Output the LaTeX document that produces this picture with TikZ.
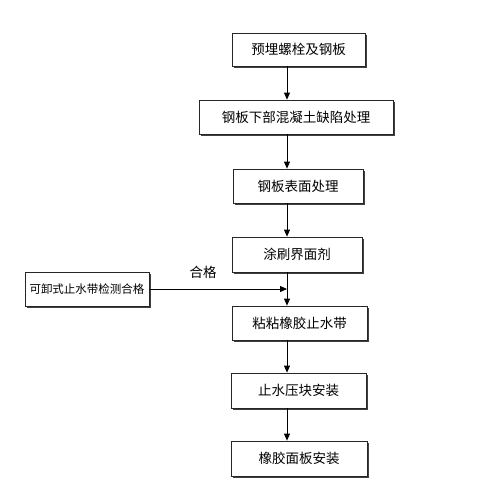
\documentclass[tikz,border=0pt]{standalone}
\usepackage{fontspec}
\newfontfamily\cjk{Noto Sans CJK SC}
\usetikzlibrary{arrows.meta,shadows}
\begin{document}
\begin{tikzpicture}[x=1pt,y=-1pt,
  stepbox/.style={draw=black!85,line width=0.8pt,fill=white,font=\cjk\fontsize{13.5}{15}\selectfont,
    inner sep=0pt,drop shadow={shadow xshift=1.5pt,shadow yshift=-1.5pt,fill=black!75,opacity=1}},
  conn/.style={draw=black,line width=0.8pt,-{Triangle[length=7pt,width=6pt]}}]
\useasboundingbox[fill=white] (0,0) rectangle (481,493);
\node[stepbox,minimum width=133pt,minimum height=33pt] (b1) at (298.5,49.5) {预埋螺栓及钢板};
\node[stepbox,minimum width=194pt,minimum height=34pt] (b2) at (296,117) {钢板下部混凝土缺陷处理};
\node[stepbox,minimum width=130pt,minimum height=34pt] (b3) at (298,186) {钢板表面处理};
\node[stepbox,minimum width=130pt,minimum height=35pt] (b4) at (297,254.5) {涂刷界面剂};
\node[stepbox,minimum width=124pt,minimum height=34pt,font=\cjk\fontsize{11.5}{13}\selectfont] (l) at (87,289) {可卸式止水带检测合格};
\node[stepbox,minimum width=135pt,minimum height=34pt] (b5) at (299.5,323) {粘粘橡胶止水带};
\node[stepbox,minimum width=135pt,minimum height=35pt] (b6) at (298.5,390.5) {止水压块安装};
\node[stepbox,minimum width=136pt,minimum height=35pt] (b7) at (299,458.5) {橡胶面板安装};
\coordinate (ax) at (287,0);
\coordinate (j) at (287,289);
\draw[conn] (b1.south -| ax) -- (b2.north -| ax);
\draw[conn] (b2.south -| ax) -- (b3.north -| ax);
\draw[conn] (b3.south -| ax) -- (b4.north -| ax);
\draw[conn] (b4.south -| ax) -- (b5.north -| ax);
\draw[conn] (l.east) -- (j);
\draw[conn] (b5.south -| ax) -- (b6.north -| ax);
\draw[conn] (b6.south -| ax) -- (b7.north -| ax);
\node[font=\cjk\fontsize{13.5}{15}\selectfont] (ok) at (203,272) {合格};
\end{tikzpicture}
\end{document}
